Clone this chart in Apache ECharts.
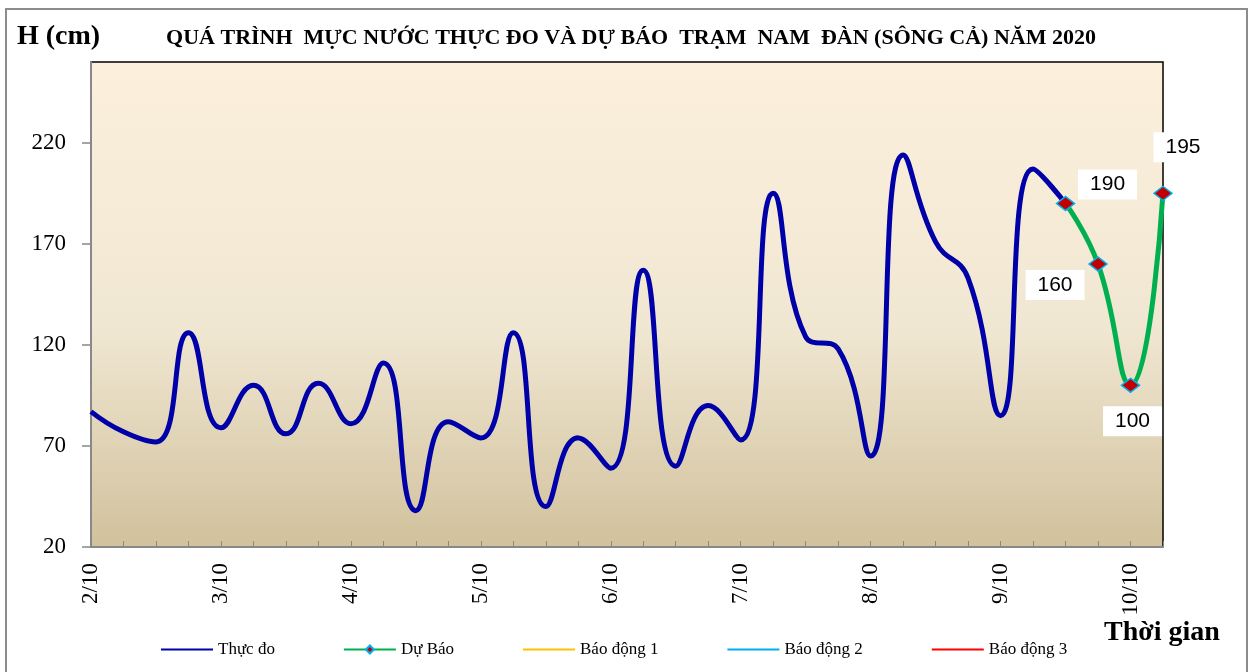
<!DOCTYPE html>
<html>
<head>
<meta charset="utf-8">
<script src="https://cdn.jsdelivr.net/npm/echarts@6/dist/echarts.min.js"></script>
<style>
html,body{margin:0;padding:0;background:#fff;}
#chart{width:1251px;height:672px;}
</style>
</head>
<body>
<div id="chart"></div>
<script>
// ---- DATA ----
const days = ['2/10','3/10','4/10','5/10','6/10','7/10','8/10','9/10','10/10'];
const hours = ['00h','06h','12h','18h'];
const pointCount = 34; // 6-hourly from 2/10 00h to 10/10 06h
const observed = [87, 77, 72, 126, 79, 100, 76, 101, 81, 111, 38, 82, 74, 126, 40, 74, 59, 157, 60, 90, 73, 195, 124, 118, 65, 214, 171, 153, 85, 207, 190];
const forecast = [190, 160, 100, 195];
const forecastStart = 30;
const yTicks = [20, 70, 120, 170, 220];
const seriesNames = ['Thực đo', 'Dự Báo', 'Báo động 1', 'Báo động 2', 'Báo động 3'];
const titleText = 'QUÁ TRÌNH  MỰC NƯỚC THỰC ĐO VÀ DỰ BÁO  TRẠM  NAM  ĐÀN (SÔNG CẢ) NĂM 2020';

// ---- BUILD ----
const categories = [];
for (let i = 0; i < pointCount; i++) {
  categories.push(days[Math.floor(i / 4)] + ' ' + hours[i % 4]);
}
const obsData = categories.map((c, i) => i < observed.length ? observed[i] : '-');
const labelOffsets = [[42, -19], [-43, 21], [2, 36], [20, -46]];
const fcData = categories.map((c, i) => {
  const k = i - forecastStart;
  if (k < 0 || k >= forecast.length) return '-';
  return { value: forecast[k], label: { offset: labelOffsets[k] } };
});

const serif = "'Liberation Serif','Times New Roman',serif";
const sans = "'Liberation Sans',Arial,sans-serif";
const noMarker = {opacity: 0};

const chart = echarts.init(document.getElementById('chart'), null, {renderer: 'canvas'});
chart.setOption({
  animation: false,
  backgroundColor: '#fff',
  graphic: [
    { type: 'rect', shape: {x: 6, y: 9, width: 1241, height: 680}, style: {fill: 'none', stroke: '#8c8c8c', lineWidth: 2}, z: -1 },
    { type: 'text', left: 17, top: 23, style: {text: 'H (cm)', font: "bold 28px 'Liberation Serif', serif", fill: '#000'} },
    { type: 'text', left: 1104, top: 619, style: {text: 'Thời gian', font: "bold 28px 'Liberation Serif', serif", fill: '#000'} }
  ],
  title: {
    text: titleText,
    left: 626, top: 22, textAlign: 'center',
    textStyle: {fontFamily: serif, fontWeight: 'bold', fontSize: 22, color: '#000'}
  },
  legend: {
    data: [
      {name: seriesNames[0], itemStyle: noMarker},
      {name: seriesNames[1]},
      {name: seriesNames[2], itemStyle: noMarker},
      {name: seriesNames[3], itemStyle: noMarker},
      {name: seriesNames[4], itemStyle: noMarker}
    ],
    left: 155, top: 636,
    itemWidth: 52, itemHeight: 10, itemGap: 68,
    lineStyle: {width: 2},
    textStyle: {fontFamily: serif, fontSize: 17, color: '#000'}
  },
  grid: {
    left: 91, right: 88, top: 62, bottom: 125,
    show: true,
    borderColor: '#000', borderWidth: 1.5,
    backgroundColor: {
      type: 'linear', x: 0, y: 0, x2: 0, y2: 1,
      colorStops: [
        {offset: 0, color: '#FCF0DC'},
        {offset: 0.55, color: '#F0E7D2'},
        {offset: 1, color: '#D1C19C'}
      ]
    }
  },
  xAxis: {
    type: 'category',
    data: categories,
    boundaryGap: false,
    axisLine: {lineStyle: {color: '#888', width: 2}},
    axisTick: {show: true, inside: true, length: 6, interval: 0, lineStyle: {color: '#888', width: 1}},
    axisLabel: {
      interval: 3, rotate: 90, margin: 16,
      fontFamily: serif, fontSize: 23, color: '#000',
      formatter: v => v.split(' ')[0]
    },
    splitLine: {show: false}
  },
  yAxis: {
    type: 'value',
    min: 20, max: 260, interval: 50,
    axisLine: {show: true, lineStyle: {color: '#888', width: 2}},
    axisTick: {show: true, length: 9, customValues: yTicks, lineStyle: {color: '#888', width: 1.5}},
    axisLabel: {customValues: yTicks, margin: 25, fontFamily: serif, fontSize: 23, color: '#000'},
    splitLine: {show: false}
  },
  series: [
    {
      name: seriesNames[0], type: 'line', data: obsData, smooth: 0.5,
      symbol: 'none', z: 2,
      lineStyle: {color: '#0000A8', width: 5},
      itemStyle: {color: '#0000A8'}
    },
    {
      name: seriesNames[1], type: 'line', data: fcData, smooth: 0.5,
      symbol: 'diamond', symbolSize: [18, 14], showAllSymbol: true, z: 3,
      lineStyle: {color: '#00B050', width: 5},
      itemStyle: {color: '#C00000', borderColor: '#00B0F0', borderWidth: 1.5},
      label: {
        show: true, position: 'inside',
        fontFamily: sans, fontSize: 21, color: '#000',
        backgroundColor: '#fff', padding: [5, 12, 4, 12]
      }
    },
    { name: seriesNames[2], type: 'line', data: [], symbol: 'none', lineStyle: {color: '#FFC000', width: 2}, itemStyle: {color: '#FFC000'} },
    { name: seriesNames[3], type: 'line', data: [], symbol: 'none', lineStyle: {color: '#00B0F0', width: 2}, itemStyle: {color: '#00B0F0'} },
    { name: seriesNames[4], type: 'line', data: [], symbol: 'none', lineStyle: {color: '#FF0000', width: 2}, itemStyle: {color: '#FF0000'} }
  ]
});
</script>
</body>
</html>
